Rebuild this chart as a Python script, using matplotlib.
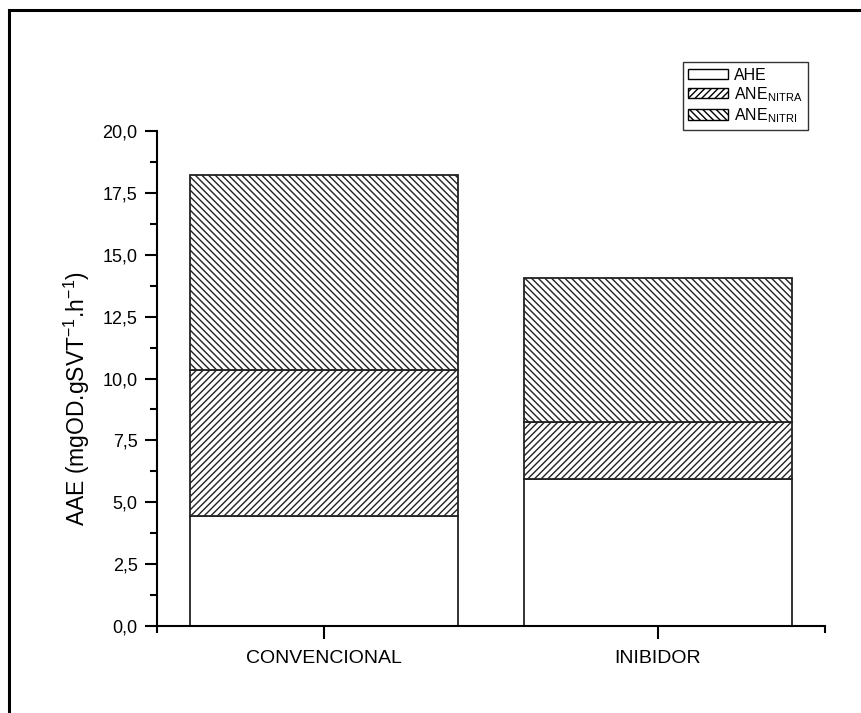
import matplotlib
matplotlib.use("Agg")
import matplotlib.pyplot as plt
from matplotlib.patches import Rectangle, Patch
from matplotlib.ticker import FuncFormatter, MultipleLocator, FixedLocator

plt.rcParams['font.family'] = ['Liberation Sans', 'DejaVu Sans']
plt.rcParams['mathtext.fontset'] = 'custom'
plt.rcParams['mathtext.rm'] = 'Liberation Sans'
plt.rcParams['mathtext.it'] = 'Liberation Sans:italic'
plt.rcParams['mathtext.bf'] = 'Liberation Sans:bold'
plt.rcParams['hatch.linewidth'] = 1.0
plt.rcParams['hatch.color'] = 'black'

# Data
categories = ['CONVENCIONAL', 'INIBIDOR']
ahe = [4.44, 5.94]
ane_nitra = [5.90, 2.30]
ane_nitri = [7.88, 5.82]
series_labels = ['AHE', r'ANE$_{\mathrm{NITRA}}$', r'ANE$_{\mathrm{NITRI}}$']

W, H, DPI = 862, 713, 100
fig = plt.figure(figsize=(W / DPI, H / DPI), dpi=DPI)
ax = fig.add_axes([157 / W, (H - 626) / H, (825 - 157) / W, (626 - 131) / H])

x = list(range(len(categories)))
edge = dict(edgecolor='#222222', linewidth=1.3, width=0.8)
ax.bar(x, ahe, color='white', **edge)
bottom2 = ahe
ax.bar(x, ane_nitra, bottom=bottom2, color='white', hatch='/////', **edge)
bottom3 = [a + b for a, b in zip(ahe, ane_nitra)]
ax.bar(x, ane_nitri, bottom=bottom3, color='white', hatch='\\\\\\\\\\', **edge)

ax.set_xlim(-0.5, 1.5)
ax.set_ylim(0, 20)
ax.set_xticks(x)
ax.set_xticklabels(categories, fontsize=14)
ax.xaxis.set_minor_locator(FixedLocator([-0.5, 1.5]))
ax.yaxis.set_major_locator(MultipleLocator(2.5))
ax.yaxis.set_minor_locator(MultipleLocator(1.25))
ax.yaxis.set_major_formatter(FuncFormatter(lambda v, p: f"{v:.1f}".replace('.', ',')))
ax.tick_params(axis='both', which='major', direction='out', length=9, width=1.5,
               labelsize=13, pad=5)
ax.tick_params(axis='x', which='major', labelsize=14, pad=8)
ax.tick_params(axis='both', which='minor', direction='out', length=5, width=1.5)

for s in ['top', 'right']:
    ax.spines[s].set_visible(False)
for s in ['left', 'bottom']:
    ax.spines[s].set_linewidth(1.5)

ax.set_ylabel(r'AAE (mgOD.gSVT$^{-1}$.h$^{-1}$)', fontsize=16.5)
ax.yaxis.set_label_coords(-0.097, 0.46)

handles = [Patch(facecolor='white', edgecolor='black', linewidth=1.0),
           Patch(facecolor='white', edgecolor='black', linewidth=1.0, hatch='/////'),
           Patch(facecolor='white', edgecolor='black', linewidth=1.0, hatch='\\\\\\\\\\')]
leg = fig.legend(handles, series_labels, loc='upper right',
                 bbox_to_anchor=(808 / W, 1 - 62 / H), fontsize=11.5,
                 frameon=True, fancybox=False, edgecolor='black',
                 handlelength=2.5, handleheight=0.6, handletextpad=0.35,
                 labelspacing=0.15, borderpad=0.35, borderaxespad=0)
leg.get_frame().set_linewidth(1.0)

# outer frame around the figure
fig.patches.append(Rectangle((9 / W, -0.1), 2.0, 1 - 10.5 / H + 0.1,
                             transform=fig.transFigure, fill=False,
                             edgecolor='black', linewidth=2.2))

fig.savefig('out.png', dpi=DPI, facecolor='white')
